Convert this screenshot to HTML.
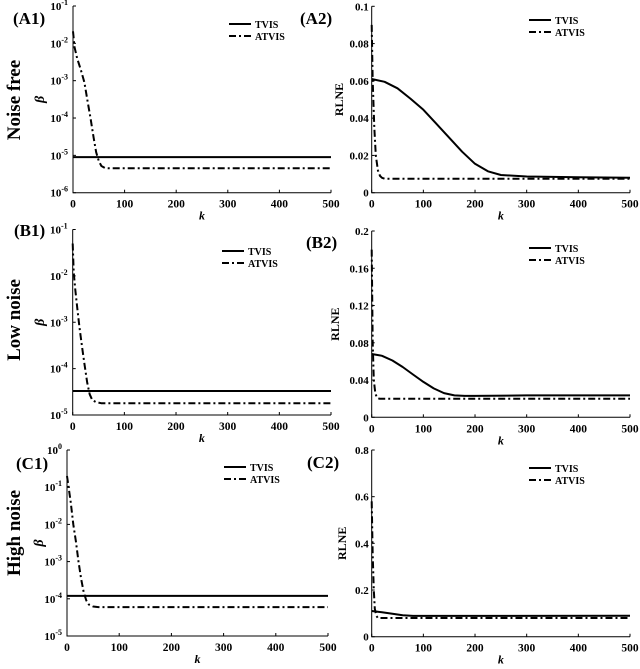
<!DOCTYPE html>
<html><head><meta charset="utf-8"><style>
body{margin:0;background:#fff;}
svg text{font-family:"Liberation Serif",serif;font-weight:bold;fill:#000;}
</style></head><body>
<svg id="fig" width="640" height="664" xmlns="http://www.w3.org/2000/svg"></svg>
<script>
// ---- data ----
const kTicks=[0,100,200,300,400,500];
// A1 (noise free, beta, log)
const a1TvisK=[0,500]; const a1TvisV=[9e-6,9e-6];
const a1AtvisK=[0,3,8,15,22,28,34,40,45,50,55,62,70,500];
const a1AtvisV=[2.1e-2,8e-3,4e-3,2e-3,9e-4,3e-4,1e-4,3e-5,1.2e-5,7e-6,5.2e-6,4.6e-6,4.5e-6,4.5e-6];
// A2 (noise free, RLNE)
const a2TvisK=[0,25,50,75,100,125,150,175,200,225,250,300,400,500];
const a2TvisV=[0.061,0.0595,0.056,0.0505,0.0445,0.037,0.0295,0.022,0.0155,0.0115,0.0095,0.0087,0.0083,0.008];
const a2AtvisK=[0,2,5,8,12,16,20,25,500];
const a2AtvisV=[0.09,0.06,0.035,0.02,0.012,0.009,0.008,0.0075,0.0075];
// B1 (low noise, beta, log)
const b1TvisK=[0,500]; const b1TvisV=[3.3e-5,3.3e-5];
const b1AtvisK=[0,2,5,9,13,18,23,28,33,38,45,55,500];
const b1AtvisV=[5e-2,1.2e-2,5e-3,2e-3,8e-4,3e-4,1.2e-4,5e-5,2.8e-5,2.1e-5,1.9e-5,1.8e-5,1.8e-5];
// B2 (low noise, RLNE)
const b2TvisK=[0,20,40,60,80,100,120,140,160,180,200,300,500];
const b2TvisV=[0.068,0.066,0.061,0.054,0.046,0.038,0.031,0.026,0.0235,0.023,0.023,0.0235,0.0235];
const b2AtvisK=[0,2,4,7,10,15,500];
const b2AtvisV=[0.18,0.08,0.04,0.026,0.021,0.02,0.02];
// C1 (high noise, beta, log)
const c1TvisK=[0,500]; const c1TvisV=[1.2e-4,1.2e-4];
const c1AtvisK=[0,3,7,12,17,22,27,32,37,42,50,60,500];
const c1AtvisV=[0.2,0.1,4e-2,1e-2,3.5e-3,1e-3,3.5e-4,1.5e-4,9e-5,7e-5,6.2e-5,6e-5,6e-5];
// C2 (high noise, RLNE)
const c2TvisK=[0,20,40,60,80,100,500];
const c2TvisV=[0.11,0.105,0.098,0.092,0.089,0.089,0.09];
const c2AtvisK=[0,2,4,6,9,12,500];
const c2AtvisV=[0.58,0.35,0.2,0.12,0.09,0.08,0.08];

const NS="http://www.w3.org/2000/svg";
const svg=document.getElementById('fig');
function mk(tag,attrs,parent){const e=document.createElementNS(NS,tag);for(const k in attrs)e.setAttribute(k,attrs[k]);(parent||svg).appendChild(e);return e;}
function txt(x,y,s,size,anchor,parent){const t=mk('text',{x:x,y:y,'font-size':size,'text-anchor':anchor||'start'},parent);t.textContent=s;return t;}

function panel(p){
  const g=mk('g',{});
  
  
  const sx=k=>p.x0+(p.x1-p.x0)*k/500;
  const sy=p.log?(v=>p.yb-(p.yb-p.yt)*(Math.log10(v)-p.lmin)/(p.lmax-p.lmin)):(v=>p.yb-(p.yb-p.yt)*v/p.ymax);
  const ax=mk('path',{d:`M${p.x0},${p.yt}V${p.yb}H${p.x1}`,stroke:'#000','stroke-width':1,fill:'none'},g);
  
  
  kTicks.forEach(k=>{
    mk('line',{x1:sx(k),x2:sx(k),y1:p.yb,y2:p.yb-3,stroke:'#000'},g);
    const t=txt(sx(k),p.yb+15,String(k),11.5,'middle',g);
    
    
  });
  const xl=mk('text',{x:(p.x0+p.x1)/2,y:p.yb+27,'font-size':12,'text-anchor':'middle','font-style':'italic'},g);
  xl.textContent='k';
  
  
  if(p.log){
    for(let e=p.lmin;e<=p.lmax;e++){
      const y=sy(Math.pow(10,e));
      mk('line',{x1:p.x0,x2:p.x0+3,y1:y,y2:y,stroke:'#000'},g);
      const t=mk('text',{x:p.x0-5,y:y+4,'font-size':11,'text-anchor':'end'},g);
      
      
      t.textContent='10';
      const s=mk('tspan',{dy:-5,'font-size':8},t);s.textContent=String(e);
    }
  } else {
    p.yticks.forEach((v,i)=>{
      const y=sy(v);
      mk('line',{x1:p.x0,x2:p.x0+3,y1:y,y2:y,stroke:'#000'},g);
      const t=txt(p.x0-3,y+4,p.ylabels[i],11,'end',g);
      
      
    });
  }
  const yt=mk('text',{x:p.ytx,y:(p.yt+p.yb)/2,'font-size':p.log?14:12,'text-anchor':'middle',transform:`rotate(-90 ${p.ytx} ${(p.yt+p.yb)/2})`,'font-style':p.log?'italic':'normal','font-weight':p.log?'normal':'bold'},g);
  yt.textContent=p.log?'β':'RLNE';
  
  
  const line=(K,V,dash,nm)=>{
    const d=K.map((k,i)=>(i?'L':'M')+sx(k).toFixed(1)+','+sy(V[i]).toFixed(1)).join('');
    const e=mk('path',{d:d,stroke:'#000','stroke-width':2,fill:'none','stroke-dasharray':dash,'stroke-linejoin':'round'},g);
    
    
  };
  line(p.tk,p.tv,'none','tvis-line');
  line(p.ak,p.av,'7,3,2,3','atvis-line');
  const lg=mk('g',{},g);
  
  
  mk('line',{x1:p.lx,x2:p.lx+22,y1:p.ly,y2:p.ly,stroke:'#000','stroke-width':2},lg);
  mk('line',{x1:p.lx,x2:p.lx+22,y1:p.ly+12,y2:p.ly+12,stroke:'#000','stroke-width':2,'stroke-dasharray':'7,3,2,3'},lg);
  const l1=txt(p.lx+26,p.ly+4,'TVIS',10,'start',lg);
  
  
  const l2=txt(p.lx+26,p.ly+16,'ATVIS',10,'start',lg);
  
  
  const pl=txt(p.px,p.py,p.label,17,'start',g);
  
  
}

panel({name:'panel-a1',x0:73,x1:331,yt:6,yb:192.7,log:true,lmin:-6,lmax:-1,ytx:44,tk:a1TvisK,tv:a1TvisV,ak:a1AtvisK,av:a1AtvisV,lx:229,ly:24,label:'(A1)',px:13,py:24});
panel({name:'panel-a2',x0:371.7,x1:630,yt:6.3,yb:192.7,log:false,ymax:0.1,yticks:[0,0.02,0.04,0.06,0.08,0.1],ylabels:['0','0.02','0.04','0.06','0.08','0.1'],ytx:343,tk:a2TvisK,tv:a2TvisV,ak:a2AtvisK,av:a2AtvisV,lx:529,ly:20,label:'(A2)',px:300,py:24});
panel({name:'panel-b1',x0:72.7,x1:331,yt:229.5,yb:415,log:true,lmin:-5,lmax:-1,ytx:44,tk:b1TvisK,tv:b1TvisV,ak:b1AtvisK,av:b1AtvisV,lx:222,ly:251,label:'(B1)',px:14,py:236});
panel({name:'panel-b2',x0:371.7,x1:630,yt:231,yb:417.3,log:false,ymax:0.2,yticks:[0,0.04,0.08,0.12,0.16,0.2],ylabels:['0','0.04','0.08','0.12','0.16','0.2'],ytx:339,tk:b2TvisK,tv:b2TvisV,ak:b2AtvisK,av:b2AtvisV,lx:529,ly:248,label:'(B2)',px:306,py:248});
panel({name:'panel-c1',x0:67,x1:328,yt:450,yb:636,log:true,lmin:-5,lmax:0,ytx:43,tk:c1TvisK,tv:c1TvisV,ak:c1AtvisK,av:c1AtvisV,lx:224,ly:467,label:'(C1)',px:16,py:469});
panel({name:'panel-c2',x0:371.7,x1:630,yt:450,yb:636.7,log:false,ymax:0.8,yticks:[0,0.2,0.4,0.6,0.8],ylabels:['0','0.2','0.4','0.6','0.8'],ytx:346,tk:c2TvisK,tv:c2TvisV,ak:c2AtvisK,av:c2AtvisV,lx:529,ly:468,label:'(C2)',px:307,py:468});

[['Noise free',100,'row-label-noise-free'],['Low noise',320,'row-label-low-noise'],['High noise',533,'row-label-high-noise']].forEach(r=>{
  const t=mk('text',{x:20,y:r[1],'font-size':19,'text-anchor':'middle',transform:`rotate(-90 20 ${r[1]})`});
  t.textContent=r[0];
  
  
});
</script>
</body></html>
